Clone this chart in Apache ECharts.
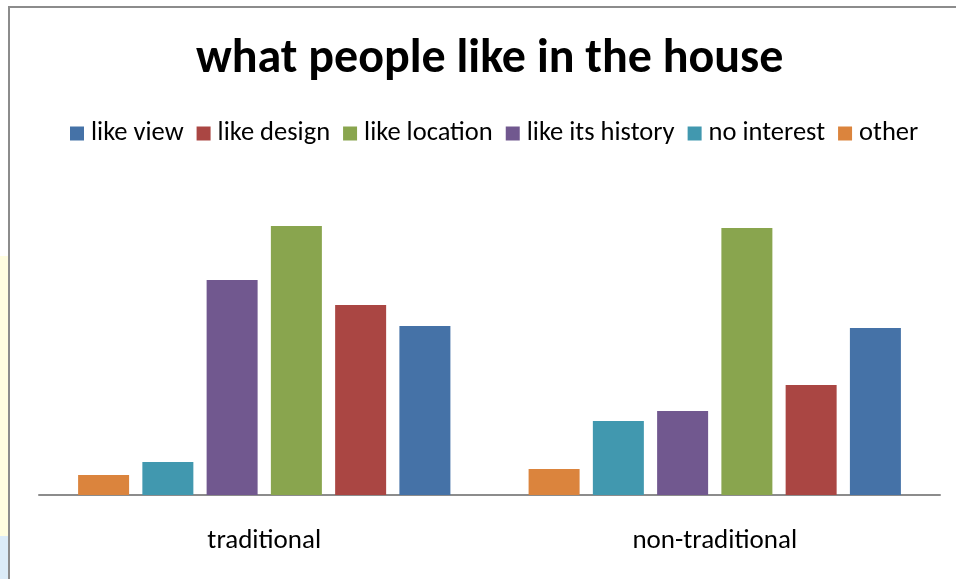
<!DOCTYPE html>
<html>
<head>
<meta charset="utf-8">
<script src="https://cdn.jsdelivr.net/npm/echarts@6/dist/echarts.min.js"></script>
<style>
  html, body { margin: 0; padding: 0; background: #ffffff; }
  #chart { width: 956px; height: 579px; }
</style>
</head>
<body>
<div id="chart"></div>
<script>
// Survey groups on the x axis
const categories = ['traditional', 'non-traditional'];

// Responses per group (bars are drawn left to right in this order)
const other       = [20, 26];
const noInterest  = [33, 74];
const likeHistory = [215, 84];
const likeLocation = [269, 267];
const likeDesign  = [190, 110];
const likeView    = [169, 167];

// Legend reads in the reverse order of the bars
const legendOrder = ['like view', 'like design', 'like location', 'like its history', 'no interest', 'other'];

const seriesDefs = [
  { name: 'other', data: other, color: '#DB843D' },
  { name: 'no interest', data: noInterest, color: '#4198AF' },
  { name: 'like its history', data: likeHistory, color: '#71588F' },
  { name: 'like location', data: likeLocation, color: '#89A54E' },
  { name: 'like design', data: likeDesign, color: '#AA4643' },
  { name: 'like view', data: likeView, color: '#4572A7' }
];

const font = 'Carlito, "Open Sans", "Noto Sans", sans-serif';

const chart = echarts.init(document.getElementById('chart'), null, { renderer: 'canvas' });
chart.setOption({
  backgroundColor: '#ffffff',
  animation: false,
  title: {
    text: 'what people like in the house',
    left: 191,
    top: 31,
    textStyle: { fontFamily: font, fontSize: 48, fontWeight: 'bold', color: '#000000' }
  },
  legend: {
    data: legendOrder,
    top: 115,
    left: 65,
    itemWidth: 14,
    itemHeight: 14,
    itemGap: 13,
    icon: 'rect',
    textStyle: { fontFamily: font, fontSize: 26.5, color: '#000000', padding: [0, 0, 0, 2] }
  },
  grid: { left: 39, right: 16, top: 195, bottom: 84, containLabel: false },
  xAxis: {
    type: 'category',
    data: categories,
    axisLine: { lineStyle: { color: '#8c8c8c', width: 2 } },
    axisTick: { show: false },
    axisLabel: { fontFamily: font, fontSize: 27, color: '#000000', margin: 33 }
  },
  yAxis: {
    type: 'value',
    min: 0,
    max: 300,
    show: false,
    splitLine: { show: false }
  },
  graphic: [
    { type: 'rect', shape: { x: 0, y: 256, width: 8, height: 280 }, style: { fill: '#fffde0' }, z: 0 },
    { type: 'rect', shape: { x: 0, y: 536, width: 8, height: 43 }, style: { fill: '#dcecf8' }, z: 0 },
    { type: 'rect', shape: { x: 9, y: 7, width: 960, height: 600 }, style: { fill: 'none', stroke: '#8c8c8c', lineWidth: 2 }, z: 0 }
  ],
  series: seriesDefs.map(s => ({
    name: s.name,
    type: 'bar',
    data: s.data,
    barWidth: 51,
    barGap: '26%',
    itemStyle: { color: s.color },
    emphasis: { disabled: true }
  }))
});
</script>
</body>
</html>
